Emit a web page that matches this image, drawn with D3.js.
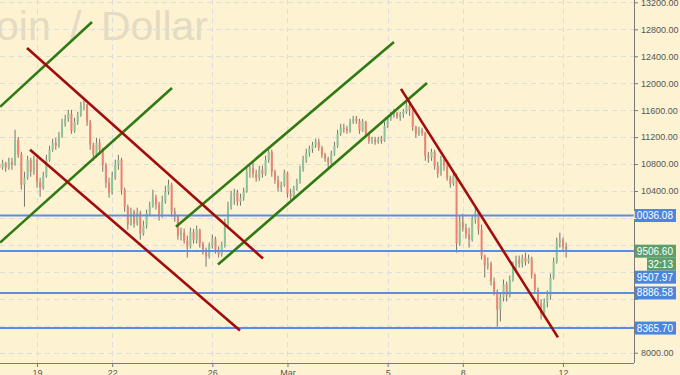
<!DOCTYPE html>
<html><head><meta charset="utf-8">
<script src="https://cdn.jsdelivr.net/npm/d3@7"></script>
<style>html,body{margin:0;padding:0;background:#fdf3d3;}svg{display:block;}</style>
</head><body>
<svg id="chart" width="680" height="375"></svg>
<script>
// ---- DATA ----
const startTime = "2018-02-17T12:00Z";   // first 3-hour candle
const candleHours = 3;
const firstOpen = 10790;
const closes = [
10745,10819,10745,10834,10790,11160,10938,10493,10597,10864,
10686,10864,10538,10449,10627,10864,11012,11116,11071,11219,
11397,11471,11545,11293,11427,11530,11664,11693,11427,11086,
10938,11116,11012,10790,10523,10375,10597,10790,10864,10419,
10167,9901,10093,9915,10078,9767,9886,10064,10182,10301,
10197,10034,10241,10390,10493,10093,10019,9738,9782,9664,
9575,9797,9678,9827,9619,9515,9426,9589,9693,9530,
9456,9604,9901,10167,10330,10375,10241,10301,10390,10686,
10745,10656,10597,10716,10656,10864,10982,10686,10567,10449,
10493,10671,10360,10315,10434,10538,10716,10864,10967,11027,
11086,11130,11041,10938,10878,10819,10953,11071,11249,11338,
11323,11293,11427,11471,11441,11293,11427,11234,11145,11160,
11130,11175,11145,11367,11471,11515,11560,11501,11545,11575,
11678,11604,11353,11249,11308,11264,10923,10893,10982,10775,
10656,10864,10775,10597,10508,10627,9619,9945,9856,9752,
9678,9975,10078,9827,9441,9293,9323,9056,8908,8641,
8819,9012,8849,9086,9293,9382,9323,9412,9352,9397,
9160,8938,8730,8582,8745,8849,9115,9352,9634,9678,
9575,9506.6];
const highs = [
10864,10864,10834,10893,10893,11308,11204,10982,10686,10923,
10893,10923,10893,10597,10686,10938,11071,11175,11190,11278,
11471,11530,11604,11604,11486,11575,11723,11782,11693,11456,
11116,11190,11175,11041,10819,10597,10686,10864,10938,10893,
10449,10197,10153,10123,10153,10108,9960,10123,10241,10419,
10345,10241,10330,10478,10567,10523,10153,10049,9856,9841,
9738,9856,9841,9886,9841,9649,9560,9634,9752,9723,
9575,9649,9990,10241,10404,10434,10419,10360,10449,10745,
10804,10834,10716,10775,10775,10923,11041,11012,10716,10627,
10538,10716,10686,10434,10478,10582,10775,10923,11027,11071,
11130,11175,11175,11071,10967,10908,10997,11130,11308,11397,
11397,11367,11471,11515,11515,11471,11471,11441,11249,11204,
11204,11204,11219,11427,11515,11575,11619,11575,11575,11619,
11752,11708,11634,11367,11353,11338,11278,10982,11027,11012,
10834,10923,10893,10804,10627,10686,10656,10034,10064,9915,
9856,10049,10153,10093,9901,9456,9412,9352,9115,8938,
8878,9086,9056,9145,9352,9441,9441,9456,9486,9456,
9426,9175,8967,8790,8804,8923,9175,9412,9708,9782,
9708,9634];
const lows = [
10641,10716,10686,10716,10716,10775,10893,10419,10167,10567,
10612,10641,10449,10315,10419,10597,10834,10982,11012,11041,
11190,11353,11427,11249,11264,11382,11501,11604,11367,11012,
10849,10893,10938,10686,10449,10301,10345,10567,10716,10345,
10093,9827,9886,9856,9886,9678,9738,9841,10034,10153,
10123,9960,10004,10212,10345,10019,9945,9678,9664,9619,
9412,9545,9619,9619,9560,9456,9278,9397,9545,9471,
9412,9426,9560,9871,10123,10197,10182,10182,10256,10375,
10597,10597,10538,10553,10597,10627,10819,10612,10508,10390,
10390,10464,10301,10271,10286,10404,10508,10686,10819,10908,
10967,11041,10997,10893,10834,10745,10775,10923,11041,11219,
11264,11249,11264,11397,11397,11249,11278,11190,11101,11101,
11086,11101,11101,11130,11338,11441,11486,11471,11441,11486,
11545,11515,11293,11190,11219,11219,10849,10819,10849,10716,
10597,10627,10701,10553,10449,10478,9486,9589,9797,9693,
9560,9649,9915,9752,9382,9115,9234,8997,8849,8390,
8464,8760,8760,8819,9056,9234,9264,9264,9293,9323,
9101,8878,8671,8493,8612,8671,8790,9086,9323,9560,
9515,9412];

const priceTicks = [8000,8400,8800,9200,9600,10000,10400,10800,11200,11600,12000,12400,12800,13200];
const dateTicks = ["2018-02-19","2018-02-22","2018-02-26","2018-03-01","2018-03-05","2018-03-08","2018-03-12"];
const dateTickLabels = ["19","22","26","Mar","5","8","12"];

const levelLines = [10036.08, 9507.97, 8886.58, 8365.70];
const lastPrice = 9506.60;
const countdown = "32:13";
const title = "Bitcoin / Dollar";

const greenLines = [
  [["2018-02-17T12:36Z",11649],["2018-02-21T04:42Z",12908]],
  [["2018-02-17T12:36Z",9634],["2018-02-24T09:20Z",11930]],
  [["2018-02-24T13:10Z",9871],["2018-03-05T06:00Z",12612]],
  [["2018-02-26T05:25Z",9308],["2018-03-06T13:40Z",12004]]
];
const redLines = [
  [["2018-02-18T14:25Z",12523],["2018-02-28T00:32Z",9397]],
  [["2018-02-18T17:18Z",11012],["2018-02-27T02:30Z",8330]],
  [["2018-03-05T12:45Z",11915],["2018-03-11T19:10Z",8227]]
];

// ---- LAYOUT ----
const W = 680, H = 375, plotR = 634, plotB = 363;
const svg = d3.select("#chart");
const bg = "#fdf3d3";
svg.append("rect").attr("width",W).attr("height",H).attr("fill",bg);

const x = d3.scaleUtc()
  .domain([new Date("2018-02-19T00:00Z"), new Date("2018-03-12T00:00Z")])
  .range([37, 563]);
const y = d3.scaleLinear().domain([8000, 12800]).range([352.7, 29.3]);

const font = "'Liberation Sans', Arial, sans-serif";

// watermark
svg.append("text").attr("x",208).attr("y",40).attr("text-anchor","end")
  .attr("font-family",font).attr("font-size",41).attr("word-spacing",8)
  .attr("fill","#e4dbc0")
  .text(title);

// grid
const grid = svg.append("g");
grid.selectAll("line.h").data(priceTicks).join("line")
  .attr("x1",0).attr("x2",plotR).attr("y1",d=>Math.round(y(d))+0.5).attr("y2",d=>Math.round(y(d))+0.5)
  .attr("stroke","#dcdde0").attr("stroke-dasharray","5,4");
grid.selectAll("line.v").data(dateTicks).join("line")
  .attr("y1",0).attr("y2",plotB).attr("x1",d=>Math.round(x(new Date(d+"T00:00Z")))+0.5).attr("x2",d=>Math.round(x(new Date(d+"T00:00Z")))+0.5)
  .attr("stroke","#dcdde0").attr("stroke-dasharray","5,4");

svg.append("clipPath").attr("id","clip").append("rect").attr("x",0).attr("y",0).attr("width",plotR).attr("height",plotB);
const plot = svg.append("g").attr("clip-path","url(#clip)");

// candles
const t0 = new Date(startTime).getTime();
const candles = closes.map((c,i)=>({
  t: new Date(t0 + i*candleHours*3600e3),
  o: i===0 ? firstOpen : closes[i-1], c, h: highs[i], l: lows[i]
}));
const cg = plot.append("g");
cg.selectAll("line").data(candles).join("line")
  .attr("x1",d=>x(d.t)).attr("x2",d=>x(d.t))
  .attr("y1",d=>y(Math.max(d.h,d.o,d.c))).attr("y2",d=>y(Math.min(d.l,d.o,d.c)))
  .attr("stroke","#555").attr("stroke-width",0.8);
cg.selectAll("rect").data(candles).join("rect")
  .attr("x",d=>x(d.t)-1).attr("width",2)
  .attr("y",d=>y(Math.max(d.o,d.c)))
  .attr("height",d=>Math.max(1,Math.abs(y(d.o)-y(d.c))))
  .attr("fill",d=>d.c>=d.o?"#8cc49a":"#ee8270");

// level lines
plot.selectAll("line.lvl").data(levelLines).join("line")
  .attr("x1",0).attr("x2",plotR).attr("y1",d=>y(d)).attr("y2",d=>y(d))
  .attr("stroke","#5b8de3").attr("stroke-width",2);

// trend lines
const lineGen = d3.line().x(d=>x(new Date(d[0]))).y(d=>y(d[1]));
plot.selectAll("path.g").data(greenLines).join("path")
  .attr("d",lineGen).attr("stroke","#2f7a12").attr("stroke-width",2.6).attr("fill","none");
plot.selectAll("path.r").data(redLines).join("path")
  .attr("d",lineGen).attr("stroke","#a30c0c").attr("stroke-width",2.6).attr("fill","none");

// price labels on right axis (positions)
const fmt = d3.format(".2f");
const boxes = [
  {cy:y(levelLines[0]), txt:fmt(levelLines[0]), col:"#4a86e0", x0:635},
  {cy:y(lastPrice), txt:fmt(lastPrice), col:"#5b9f6e", x0:635},
  {cy:y(lastPrice)+13, txt:countdown, col:"#5b9f6e", x0:647},
  {cy:y(lastPrice)+26, txt:fmt(levelLines[1]), col:"#4a86e0", x0:635},
  {cy:y(levelLines[2]), txt:fmt(levelLines[2]), col:"#4a86e0", x0:635},
  {cy:y(levelLines[3]), txt:fmt(levelLines[3]), col:"#4a86e0", x0:635}
];
// tick labels (mostly) hidden behind a label box are not drawn
const hidden = v => boxes.some(b => Math.abs(y(v) - b.cy) < 6.5);

// axes
const yAxis = d3.axisRight(y).tickValues(priceTicks).tickFormat(fmt).tickSize(4).tickPadding(3);
const ya = svg.append("g").attr("transform",`translate(${plotR},0)`).call(yAxis);
ya.select(".domain").attr("d",`M0.5,0V${plotB}`).attr("stroke","#7a7a7a");
ya.selectAll(".tick line").attr("stroke","#7a7a7a");
ya.selectAll(".tick text").attr("fill","#555").attr("font-family",font).attr("font-size",9)
  .style("display", d => hidden(d) ? "none" : null);

const xAxis = d3.axisBottom(x).tickValues(dateTicks.map(d=>new Date(d+"T00:00Z")))
  .tickFormat((d,i)=>dateTickLabels[i]).tickSize(4).tickPadding(3);
const xa = svg.append("g").attr("transform",`translate(0,${plotB})`).call(xAxis);
xa.select(".domain").attr("d",`M0,0.5H${plotR}`).attr("stroke","#7a7a7a");
xa.selectAll(".tick line").attr("stroke","#7a7a7a");
xa.selectAll(".tick text").attr("fill","#555").attr("font-family",font).attr("font-size",9);

const bgBoxes = svg.append("g");
boxes.forEach(b=>{
  bgBoxes.append("rect").attr("x",b.x0).attr("y",b.cy-6.5).attr("width",676-b.x0).attr("height",13).attr("fill",b.col);
  bgBoxes.append("text").attr("x",673).attr("y",b.cy+3.5).attr("text-anchor","end")
    .attr("font-family",font).attr("font-size",10).attr("fill","#fff").text(b.txt);
});
</script>
</body></html>
